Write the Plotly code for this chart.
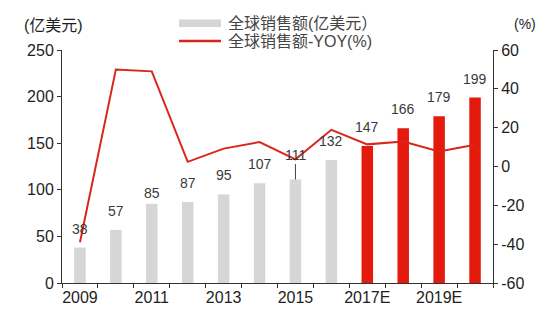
import plotly.graph_objects as go

# Global sales (100M USD) and year-over-year growth (%)
years = ["2009", "2010", "2011", "2012", "2013", "2014", "2015", "2016",
         "2017E", "2018E", "2019E", "2020E"]
sales = [38, 57, 85, 87, 95, 107, 111, 132, 147, 166, 179, 199]
yoy = [-39, 50, 49, 2.4, 9.2, 12.6, 3.7, 18.9, 11.4, 12.9, 7.8, 11.2]
tick_text = ["2009", "", "2011", "", "2013", "", "2015", "", "2017E", "", "2019E", ""]
yoy_ticks = [-60, -40, -20, 0, 20, 40, 60]

sales_name = "全球销售额(亿美元）"
yoy_name = "全球销售额-YOY(%)"

GRAY = "#d6d6d6"
RED = "#e41a0c"
LINE_RED = "#d8261c"
TEXT = "#1e1e1e"
LABEL = "#3a3a3a"
FONT = "Arial, Liberation Sans, Noto Sans CJK SC, sans-serif"

W, H = 549, 324
ML, MR, MT, MB = 62, 56, 50, 41


def px_x(px):
    return (px - ML) / (W - ML - MR)


def px_y(py):
    return (H - MB - py) / (H - MT - MB)


bar_colors = [RED if y.endswith("E") else GRAY for y in years]

fig = go.Figure()
fig.add_trace(go.Bar(
    x=years, y=sales, marker_color=bar_colors, marker_line_width=0,
    width=0.32, name=sales_name, showlegend=False, yaxis="y",
))
fig.add_trace(go.Scatter(
    x=years, y=yoy, mode="lines", line=dict(color=LINE_RED, width=2),
    name=yoy_name, showlegend=False, yaxis="y2",
))

# value labels above each bar (x given as category index)
annotations = []
for i, v in enumerate(sales):
    if v == 111:
        annotations.append(dict(
            x=i, y=v, xref="x", yref="y", text=str(v), showarrow=True,
            arrowhead=0, arrowwidth=1, arrowcolor="#444", ax=0, ay=-25,
            font=dict(size=14, color=LABEL, family=FONT),
        ))
    else:
        annotations.append(dict(
            x=i, y=v, xref="x", yref="y", text=str(v), showarrow=False,
            yshift=11 if v == 85 else 19, yanchor="middle",
            font=dict(size=14, color=LABEL, family=FONT),
        ))

# axis unit captions
annotations.append(dict(x=px_x(22), y=px_y(25), xref="paper", yref="paper",
                        text="(亿美元)", showarrow=False, xanchor="left",
                        yanchor="middle", font=dict(size=16, color=TEXT, family=FONT)))
annotations.append(dict(x=px_x(512), y=px_y(24), xref="paper", yref="paper",
                        text="(%)", showarrow=False, xanchor="left",
                        yanchor="middle", font=dict(size=14, color=TEXT, family=FONT)))

# legend entries
annotations.append(dict(x=px_x(226), y=px_y(23), xref="paper", yref="paper",
                        text=sales_name, showarrow=False, xanchor="left",
                        yanchor="middle", font=dict(size=16, color="#444", family=FONT)))
annotations.append(dict(x=px_x(226), y=px_y(42), xref="paper", yref="paper",
                        text=yoy_name, showarrow=False, xanchor="left",
                        yanchor="middle", font=dict(size=16, color="#444", family=FONT)))

shapes = [
    dict(type="rect", xref="paper", yref="paper",
         x0=px_x(179), x1=px_x(221), y0=px_y(27), y1=px_y(19.5),
         fillcolor=GRAY, line=dict(width=0)),
    dict(type="line", xref="paper", yref="paper",
         x0=px_x(179), x1=px_x(221), y0=px_y(41), y1=px_y(41),
         line=dict(color=LINE_RED, width=2.5)),
]

fig.update_layout(
    width=W, height=H,
    margin=dict(l=ML, r=MR, t=MT, b=MB, pad=0),
    paper_bgcolor="white", plot_bgcolor="white",
    font=dict(family=FONT, size=14, color=TEXT),
    showlegend=False,
    bargap=0.68,
    annotations=annotations,
    shapes=shapes,
    xaxis=dict(
        type="category", tickmode="array", tickvals=years, ticktext=tick_text,
        tickson="boundaries", ticks="outside", ticklen=4, tickcolor="#333",
        tickangle=0, showline=True, linecolor="#333", linewidth=1,
        showgrid=False, tickfont=dict(size=16, color=TEXT), range=[-0.5, 11.5],
    ),
    yaxis=dict(
        range=[0, 250], dtick=50, ticks="outside", ticklen=4, tickcolor="#333",
        showline=True, linecolor="#333", linewidth=1, showgrid=False,
        zeroline=False, tickfont=dict(size=16, color=TEXT),
    ),
    yaxis2=dict(
        range=[-60, 60], tickmode="array", tickvals=yoy_ticks,
        ticktext=[str(t) for t in yoy_ticks], overlaying="y", side="right",
        ticks="outside", ticklen=4, tickcolor="#333",
        showline=True, linecolor="#333", linewidth=1, showgrid=False,
        zeroline=False, tickfont=dict(size=16, color=TEXT),
    ),
)

fig.write_html("out.html")
